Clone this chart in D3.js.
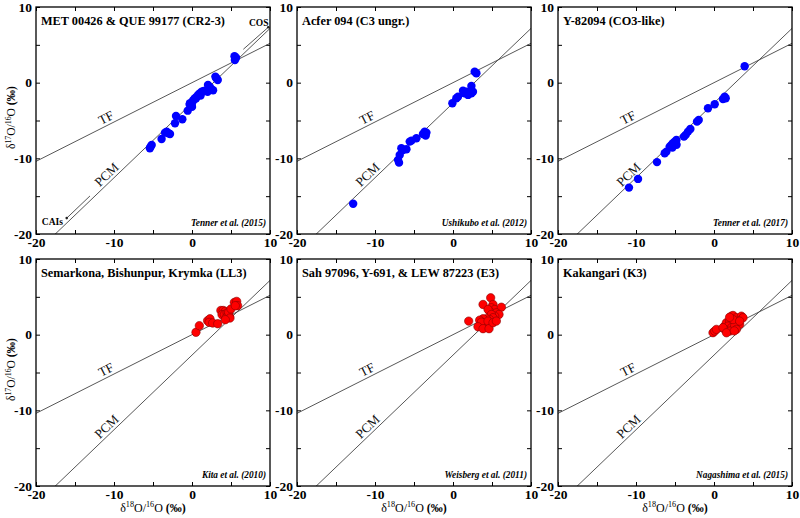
<!DOCTYPE html>
<html><head><meta charset="utf-8">
<script src="https://cdn.jsdelivr.net/npm/d3@7"></script>
<style>
body{margin:0;background:#fff;}
svg{display:block;}
text{font-family:"Liberation Serif","Times New Roman",serif;}
</style></head>
<body>
<svg id="chart" width="800" height="518"></svg>
<script>
// ---------- data ----------
const panelTitles = ["MET 00426 & QUE 99177 (CR2-3)", "Acfer 094 (C3 ungr.)", "Y-82094 (CO3-like)",
  "Semarkona, Bishunpur, Krymka (LL3)", "Sah 97096, Y-691, & LEW 87223 (E3)", "Kakangari (K3)"];
const citations = ["Tenner et al. (2015)", "Ushikubo et al. (2012)", "Tenner et al. (2017)",
  "Kita et al. (2010)", "Weisberg et al. (2011)", "Nagashima et al. (2015)"];
const pointColors = ["blue", "blue", "blue", "red", "red", "red"];

const crX = [5.5, 5.65, 5.45, 3.1, 3.3, 3.0, 3.2, 2.05, 2.3, 2.5, 2.7, 1.24, 1.03, 0.8, 0.6, 0.38, 0.17, 0.09, -0.26, -0.04, 1.5, 1.1, 0.5, -0.3, 0.0, 2.0, -0.55, -2.05, -1.24, -2.18, -3.24, -3.46, -3.03, -2.82, -3.9, -5.17, -5.4, -5.3];
const crY = [3.0, 3.3, 3.5, 0.6, 0.35, 0.8, 0.5, -0.3, -0.6, -0.9, -1.0, -1.2, -1.4, -1.6, -1.85, -2.06, -2.28, -2.5, -2.72, -2.95, -1.1, -1.7, -2.1, -2.9, -3.2, -1.2, -3.7, -4.4, -4.84, -5.37, -6.47, -6.6, -6.68, -6.78, -7.44, -8.23, -8.67, -8.45];

const acX = [2.78, 3.0, 2.36, 1.72, 1.5, 1.93, 2.36, 2.56, 1.28, 0.64, 0.43, -0.08, -3.63, -3.41, -3.85, -3.5, -4.69, -5.55, -5.33, -5.97, -6.41, -6.62, -6.83, -7.05, -6.92, -12.8];
const acY = [1.45, 1.24, -0.44, -1.19, -1.4, -1.62, -1.4, -1.19, -1.06, -1.85, -2.06, -2.72, -6.47, -6.6, -6.78, -7.0, -7.35, -7.79, -7.66, -8.8, -8.89, -8.67, -9.55, -10.2, -10.57, -16.0];

const coX = [3.93, 1.37, 1.15, 1.5, 0.09, -0.77, -1.96, -2.18, -3.03, -3.33, -3.63, -3.85, -4.82, -5.04, -5.26, -5.47, -5.68, -5.13, -4.91, -5.33, -4.8, -6.1, -6.32, -7.31, -9.74, -10.9];
const coY = [2.16, -1.85, -2.15, -2.06, -2.85, -3.38, -4.93, -5.15, -6.12, -6.47, -6.9, -7.13, -7.57, -7.79, -8.0, -8.23, -8.45, -8.0, -7.88, -8.58, -8.2, -9.11, -9.33, -10.5, -12.72, -13.87];

const llX = [0.51, 0.94, 2.0, 2.3, 2.2, 2.65, 3.3, 3.7, 4.0, 4.27, 3.85, 4.15, 4.5, 4.57, 4.8, 4.36, 4.7, 5.0, 5.43, 5.73, 5.85, 5.55, 4.87, 4.27];
const llY = [0.31, 1.19, 1.85, 2.1, 1.63, 1.54, 1.45, 3.2, 3.2, 3.08, 2.64, 2.64, 2.86, 2.5, 2.42, 2.2, 2.95, 3.4, 4.27, 4.4, 3.83, 3.83, 2.2, 1.98];

const eX = [4.83, 3.85, 5.13, 4.92, 5.35, 4.7, 4.49, 6.2, 5.56, 5.9, 5.35, 4.92, 5.13, 4.7, 4.28, 3.85, 3.42, 4.06, 3.64, 4.49, 2.01, 3.2, 3.85, 4.62, 5.13, 5.56];
const eY = [4.87, 3.99, 3.99, 3.55, 3.33, 3.1, 3.33, 3.63, 2.89, 2.67, 2.45, 2.67, 2.24, 2.0, 2.1, 2.1, 1.92, 1.58, 1.66, 1.79, 1.79, 1.05, 0.79, 0.79, 1.58, 1.79];

const kX = [-0.13, 0.09, 0.31, 1.37, 1.59, 2.23, 2.44, 2.87, 3.51, 3.72, 2.01, 2.44, 3.08, 3.29, 1.8, 2.23, 2.65, 1.37, 2.01, 2.87, 2.44, 1.15, 3.29, 2.0, 1.6, 2.6];
const kY = [0.26, 0.47, 0.7, 1.13, 1.58, 2.45, 2.54, 2.24, 2.45, 2.24, 1.79, 1.58, 1.79, 1.36, 1.13, 0.92, 1.13, 0.7, 0.47, 0.7, 2.0, 0.92, 1.79, 2.3, 0.25, 0.5];

const seriesX = [crX, acX, coX, llX, eX, kX];
const seriesY = [crY, acY, coY, llY, eY, kY];

const axisTicks = [-20, -15, -10, -5, 0, 5, 10];
const tickLabels = [-20, -10, 0, 10];
const tfLine = {slope: 0.52, intercept: 0.0};
const pcmLine = {slope: 0.987, intercept: -2.7};
const caisSeg = [[-16.06, -17.9], [-13.08, -14.97]];
const cosSeg = [[6.58, 4.41], [9.78, 7.32]];

// ---------- layout ----------
const svg = d3.select("#chart");
const colX = [36, 297, 558], rowY = [7, 259];
const W = 234, H = 227;
const x = d3.scaleLinear().domain([-20, 10]).range([0, W]);
const y = d3.scaleLinear().domain([-20, 10]).range([H, 0]);

svg.append("defs").append("clipPath").attr("id", "clip")
  .append("rect").attr("width", W).attr("height", H);

const fmt = d => tickLabels.includes(d) ? String(d) : "";

function lineSeg(g, L, label, lx, dyOff) {
  const xs = [-25, 15];
  g.append("line").attr("clip-path", "url(#clip)")
    .attr("x1", x(xs[0])).attr("y1", y(L.slope * xs[0] + L.intercept))
    .attr("x2", x(xs[1])).attr("y2", y(L.slope * xs[1] + L.intercept))
    .attr("stroke", "#444").attr("stroke-width", 0.9);
  const ang = Math.atan2(-(y(L.slope) - y(0)), x(1) - x(0)) * 180 / Math.PI;
  const px = x(lx), py = y(L.slope * lx + L.intercept);
  g.append("text").attr("transform", `translate(${px},${py}) rotate(${-ang})`)
    .attr("dy", dyOff).attr("text-anchor", "middle")
    .attr("font-size", 13).attr("fill", "#111").text(label);
}

for (let i = 0; i < 6; i++) {
  const g = svg.append("g").attr("transform", `translate(${colX[i % 3]},${rowY[Math.floor(i / 3)]})`);
  // axes
  const aB = d3.axisBottom(x).tickValues(axisTicks).tickSizeInner(-4).tickSizeOuter(0).tickPadding(3).tickFormat(fmt);
  const aL = d3.axisLeft(y).tickValues(axisTicks).tickSizeInner(-4).tickSizeOuter(0).tickPadding(4).tickFormat(fmt);
  const aT = d3.axisTop(x).tickValues(axisTicks).tickSizeInner(-4).tickSizeOuter(0).tickFormat("");
  const aR = d3.axisRight(y).tickValues(axisTicks).tickSizeInner(-4).tickSizeOuter(0).tickFormat("");
  const styleAxis = sel => {
    sel.selectAll("path").remove();
    sel.selectAll("line").attr("stroke", "#000").attr("stroke-width", 1);
    sel.selectAll("text").attr("font-family", "Liberation Serif, serif").attr("font-weight", "bold")
      .attr("font-size", 13.5).attr("fill", "#000");
  };
  g.append("g").attr("transform", `translate(0,${H})`).call(aB).call(styleAxis);
  g.append("g").call(aL).call(styleAxis);
  g.append("g").call(aT).call(styleAxis);
  g.append("g").attr("transform", `translate(${W},0)`).call(aR).call(styleAxis);

  // lines
  lineSeg(g, tfLine, "TF", -10.6, -3);
  lineSeg(g, pcmLine, "PCM", -10.3, -3);

  if (i === 0) {
    const ln = (s) => g.append("line")
      .attr("x1", x(s[0][0])).attr("y1", y(s[0][1])).attr("x2", x(s[1][0])).attr("y2", y(s[1][1]))
      .attr("stroke", "#444").attr("stroke-width", 0.9);
    ln(caisSeg); ln(cosSeg);
    g.append("circle").attr("cx", x(caisSeg[0][0])).attr("cy", y(caisSeg[0][1])).attr("r", 1.3).attr("fill", "#222");
    g.append("circle").attr("cx", x(cosSeg[1][0])).attr("cy", y(cosSeg[1][1])).attr("r", 1.3).attr("fill", "#222");
    g.append("text").attr("x", x(-19.25)).attr("y", y(-18.8)).attr("font-size", 9.5).attr("font-weight", "bold").text("CAIs");
    g.append("text").attr("x", x(9.8)).attr("y", y(7.5)).attr("text-anchor", "end").attr("font-size", 9.5).attr("font-weight", "bold").text("COS");
  }

  // points
  const pts = d3.range(seriesX[i].length).map(k => [seriesX[i][k], seriesY[i][k]]);
  const isRed = pointColors[i] === "red";
  g.append("g").attr("clip-path", "url(#clip)").selectAll("circle").data(pts).join("circle")
    .attr("cx", d => x(d[0])).attr("cy", d => y(d[1])).attr("r", 4.2)
    .attr("fill", isRed ? "#ff0000" : "#0000ff")
    .attr("stroke", isRed ? "#8b0000" : "none").attr("stroke-width", 0.6);

  // frame
  g.append("rect").attr("width", W).attr("height", H).attr("fill", "none").attr("stroke", "#000").attr("stroke-width", 1.3);

  // title
  g.append("text").attr("x", 5).attr("y", 18).attr("font-size", 12.3).attr("font-weight", "bold").text(panelTitles[i]);
  // citation
  g.append("text").attr("x", W - 4).attr("y", H - 8).attr("text-anchor", "end")
    .attr("font-size", 9.3).attr("font-weight", "bold").attr("font-style", "italic").text(citations[i]);
}

// axis titles
function isoLabel(sel, mass, fs) {
  const sup = fs * 0.68, sh = fs * 0.38;
  sel.append("tspan").text("δ");
  sel.append("tspan").attr("font-size", sup).attr("dy", -sh).text(mass);
  sel.append("tspan").attr("dy", sh).text("O/");
  sel.append("tspan").attr("font-size", sup).attr("dy", -sh).text("16");
  sel.append("tspan").attr("dy", sh).text("O ");
  sel.append("tspan").attr("font-weight", "bold").text("(‰)");
}
for (let r = 0; r < 2; r++) {
  const t = svg.append("text").attr("transform", `translate(15,${rowY[r] + H / 2 - 3}) rotate(-90)`)
    .attr("text-anchor", "middle").attr("font-size", 11.5);
  isoLabel(t, "17", 11.5);
}
for (let c = 0; c < 3; c++) {
  const t = svg.append("text").attr("x", colX[c] + W / 2).attr("y", 512)
    .attr("text-anchor", "middle").attr("font-size", 12);
  isoLabel(t, "18", 12);
}
</script>
</body></html>
